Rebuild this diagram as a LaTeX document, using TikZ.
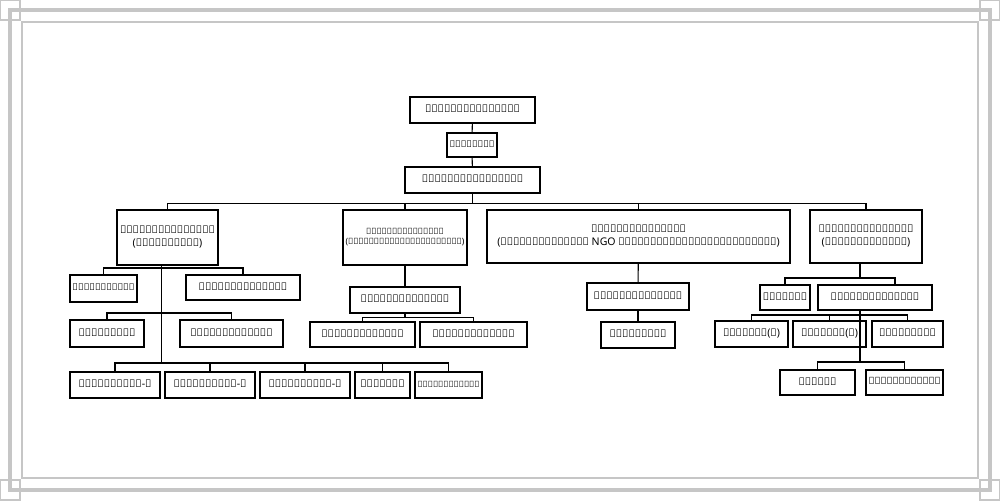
\documentclass[tikz,border=0pt]{standalone}
\usepackage{fontspec}
\usepackage{adjustbox}
\setmainfont{Noto Sans}
\begin{document}
\begin{tikzpicture}[x=0.03cm,y=-0.03cm,
  bx/.style={draw,line width=1.6pt,inner sep=0pt,align=center,font=\small},
  ln/.style={line width=0.9pt},
  fr/.style={draw=gray!45,line width=3pt}]
\useasboundingbox (0,0) rectangle (1000,500);
\fill[white] (0,0) rectangle (1000,500);
% frame
\draw[fr] (10,10) rectangle (990,490);
\draw[fr,line width=1.5pt] (22,22) rectangle (978,478);
\foreach \cx/\cy in {10/10,990/10,10/490,990/490}{
  \draw[fr,line width=2pt] (\cx-10,\cy-10) rectangle (\cx+10,\cy+10);}
\newcommand{\bx}[6]{%
  \pgfmathsetmacro{\cxx}{(#2+#4)/2}\pgfmathsetmacro{\cyy}{(#3+#5)/2}%
  \pgfmathsetmacro{\ww}{(#4-#2)*0.03}\pgfmathsetmacro{\hh}{(#5-#3)*0.03}%
  \pgfmathsetmacro{\tw}{(#4-#2)*0.03-0.15}%
  \node[bx,minimum width=\ww cm,minimum height=\hh cm] (#1) at (\cxx,\cyy)
    {\adjustbox{max width=\tw cm}{\begin{tabular}{@{}c@{}}#6\end{tabular}}};}
\bx{A}{410}{97}{535}{123}{အထွေထွေမန်နေဂျာ}
\bx{B}{447}{133}{497}{157}{မန်နေဂျာ}
\bx{C}{405}{167}{540}{193}{လက်ထောက်မန်နေဂျာ}
\bx{L1}{117}{210}{218}{265}{ကြီးကြပ်ရေးမှူး\\(စီမံဌာနခွဲ)}
\bx{L2}{343}{210}{467}{265}{ကြီးကြပ်ရေးမှူး\\(နာမကျန်းပြုစုရေးဌာနခွဲ)}
\bx{L3}{487}{210}{790}{263}{ကြီးကြပ်ရေးမှူး\\(ပြည်တွင်းပြည်ပ NGO များနှင့်ဆက်သွယ်ရေးဌာနခွဲ)}
\bx{L4}{810}{210}{922}{263}{ကြီးကြပ်ရေးမှူး\\(ဆေးခန်းဌာနခွဲ)}
% left column
\bx{a1}{70}{275}{137}{302}{စာရင်းကိုင်}
\bx{a2}{186}{275}{300}{300}{အကြီးတန်းစာရေး}
\bx{a3}{70}{320}{144}{347}{ကွန်ပျူတာ}
\bx{a4}{180}{320}{283}{347}{အငယ်တန်းစာရေး}
\bx{d1}{70}{372}{160}{398}{ယာဉ်မောင်း-၁}
\bx{d2}{165}{372}{255}{398}{ယာဉ်မောင်း-၂}
\bx{d3}{260}{372}{350}{398}{ယာဉ်မောင်း-၃}
\bx{d4}{355}{372}{410}{398}{ညစောင့်}
\bx{d5}{415}{372}{482}{398}{သန့်ရှင်းရေး}
% middle
\bx{b1}{350}{287}{460}{313}{အကြီးတန်းစာရေး}
\bx{b2}{310}{322}{415}{347}{အငယ်တန်းစာရေး}
\bx{b3}{420}{322}{527}{347}{အငယ်တန်းစာရေး}
% col3
\bx{c1}{587}{283}{689}{310}{အကြီးတန်းစာရေး}
\bx{c2}{601}{322}{675}{348}{ကွန်ပျူတာ}
% col4
\bx{e1}{760}{285}{810}{310}{သူနာပြု}
\bx{e2}{818}{285}{932}{310}{အကြီးတန်းစာရေး}
\bx{f1}{715}{321}{788}{347}{သားဖွား(၁)}
\bx{f2}{793}{321}{866}{347}{သားဖွား(၂)}
\bx{f3}{872}{321}{943}{347}{ကွန်ပျူတာ}
\bx{g1}{780}{370}{855}{395}{ဆေးအကူ}
\bx{g2}{866}{370}{943}{395}{သန့်ရှင်းရေး}
% connectors
\draw[ln] (A) -- (B); \draw[ln] (B) -- (C);
\draw[ln] (C.south) -- ++(0,10) coordinate (bar);
\foreach \n in {L1,L2,L3,L4} \draw[ln] (bar) -| (\n.north);
\coordinate (l1x) at ([xshift=-6*0.03cm]L1.south);
\draw[ln] (l1x |- 0,268) coordinate (r1) -| (a1.north); \draw[ln] (r1) -| (a2.north);
\draw[ln] (l1x |- 0,313) coordinate (r2) -| (a3.north); \draw[ln] (r2) -| (a4.north);
\coordinate (r3) at (l1x |- 0,363);
\draw[ln] (l1x) -- (r3);
\foreach \n in {d1,d2,d3,d4,d5} \draw[ln] (r3) -| (\n.north);
\draw[ln] (L2) -- (b1);
\draw[ln] (b1.south) -- ++(0,4) coordinate (mb);
\draw[ln] (mb) -| (b2.north); \draw[ln] (mb) -| (b3.north);
\draw[ln] (L3) -- (c1); \draw[ln] (c1) -- (c2);
\coordinate (k) at ([xshift=-6*0.03cm]L4.south);
\draw[ln] (k) -- (k |- 0,278) coordinate (k1);
\draw[ln] (k1) -| (e1.north); \draw[ln] (k1) -| ([xshift=20*0.03cm]e2.north);
\draw[ln] (k |- e2.south) -- (k |- 0,362) coordinate (k3);
\draw[ln] (k |- 0,315) coordinate (k2) -| (f1.north);
\draw[ln] (k2) -| (f3.north); \draw[ln] (k2) -| (f2.north);
\draw[ln] (k3) -| (g1.north); \draw[ln] (k3) -| (g2.north);
\end{tikzpicture}
\end{document}
